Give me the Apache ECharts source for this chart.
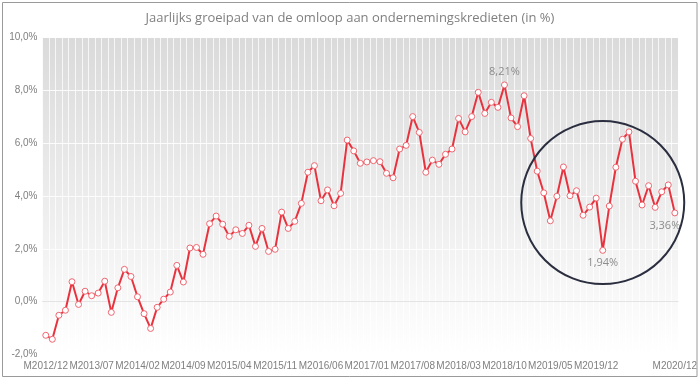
<!DOCTYPE html>
<html>
<head>
<meta charset="utf-8">
<script src="https://cdn.jsdelivr.net/npm/echarts@6/dist/echarts.min.js"></script>
<style>html,body{margin:0;padding:0;background:#fff;}#c{width:700px;height:381px;}</style>
</head>
<body>
<div id="c"></div>
<script>
const titleText = 'Jaarlijks groeipad van de omloop aan ondernemingskredieten (in %)';
const categories = [
 'M2012/12','M2013/01','M2013/02','M2013/03','M2013/04','M2013/05','M2013/06','M2013/07','M2013/08','M2013/09','M2013/10','M2013/11','M2013/12',
 'M2014/01','M2014/02','M2014/03','M2014/04','M2014/05','M2014/06','M2014/07','M2014/08','M2014/09','M2014/10','M2014/11','M2014/12',
 'M2015/01','M2015/02','M2015/03','M2015/04','M2015/05','M2015/06','M2015/07','M2015/08','M2015/09','M2015/10','M2015/11','M2015/12',
 'M2016/01','M2016/02','M2016/03','M2016/04','M2016/05','M2016/06','M2016/07','M2016/08','M2016/09','M2016/10','M2016/11','M2016/12',
 'M2017/01','M2017/02','M2017/03','M2017/04','M2017/05','M2017/06','M2017/07','M2017/08','M2017/09','M2017/10','M2017/11','M2017/12',
 'M2018/01','M2018/02','M2018/03','M2018/04','M2018/05','M2018/06','M2018/07','M2018/08','M2018/09','M2018/10','M2018/11','M2018/12',
 'M2019/01','M2019/02','M2019/03','M2019/04','M2019/05','M2019/06','M2019/07','M2019/08','M2019/09','M2019/10','M2019/11','M2019/12',
 'M2020/01','M2020/02','M2020/03','M2020/04','M2020/05','M2020/06','M2020/07','M2020/08','M2020/09','M2020/10','M2020/11','M2020/12'
];
const growth = [
 -1.28,-1.43,-0.52,-0.33,0.75,-0.11,0.39,0.22,0.32,0.77,-0.41,0.52,1.22,
 0.95,0.18,-0.46,-1.02,-0.22,0.09,0.36,1.37,0.74,2.03,2.05,1.79,
 2.95,3.24,2.93,2.47,2.72,2.58,2.89,2.09,2.77,1.90,1.98,3.39,
 2.77,3.04,3.72,4.90,5.15,3.82,4.23,3.63,4.10,6.12,5.71,5.24,
 5.29,5.34,5.30,4.86,4.69,5.78,5.92,7.01,6.41,4.90,5.36,5.20,
 5.58,5.78,6.94,6.43,7.01,7.93,7.13,7.55,7.36,8.21,6.96,6.63,
 7.80,6.18,4.94,4.12,3.06,3.99,5.10,4.01,4.20,3.27,3.58,3.92,
 1.94,3.62,5.09,6.15,6.43,4.56,3.66,4.39,3.57,4.16,4.42,3.36
];
const labelledPoints = [
 {index: 70, text: '8,21%', pos: 'top', offset: [0, 0]},
 {index: 85, text: '1,94%', pos: 'bottom', offset: [0, 0]},
 {index: 96, text: '3,36%', pos: 'bottom', offset: [-10, 0]}
];
const yTicks = {min: -2, max: 10, interval: 2};
const circleAnchor = {index: 85, value: 3.75};

const axisFont = 'Liberation Sans';
const fmtPct = v => v.toFixed(1).replace('.', ',') + '%';
const seriesData = growth.map((v, i) => {
  const lp = labelledPoints.find(p => p.index === i);
  if (!lp) return v;
  return {value: v, label: {show: true, position: lp.pos, offset: lp.offset, formatter: lp.text,
    color: '#8c8c8c', fontSize: 11, fontFamily: 'Open Sans', distance: 4}};
});

const chart = echarts.init(document.getElementById('c'), null, {renderer: 'canvas'});
chart.setOption({
  animation: false,
  backgroundColor: '#ffffff',
  title: {
    text: titleText, left: 'center', top: 7,
    textStyle: {color: '#808080', fontSize: 13, fontWeight: 'normal', fontFamily: 'Open Sans'}
  },
  grid: {
    left: 42.5, right: 9, top: 37.7, bottom: 26.7, show: true, borderWidth: 0,
    backgroundColor: new echarts.graphic.LinearGradient(0, 0, 0, 1, [
      {offset: 0, color: '#dadada'},
      {offset: 0.5, color: '#ececec'},
      {offset: 1, color: '#ffffff'}
    ])
  },
  xAxis: {
    type: 'category', data: categories, boundaryGap: true,
    axisLine: {show: true, lineStyle: {color: '#e4e4e4', width: 1}},
    axisTick: {show: false},
    splitLine: {show: true, interval: 0, lineStyle: {color: 'rgba(255,255,255,0.75)', width: 1}},
    axisLabel: {
      interval: idx => (idx % 7 === 0 && idx <= 84) || idx === categories.length - 1,
      showMinLabel: true, showMaxLabel: true,
      color: '#808080', fontSize: 10, fontFamily: axisFont, margin: 7, hideOverlap: false
    }
  },
  yAxis: {
    type: 'value', min: yTicks.min, max: yTicks.max, interval: yTicks.interval,
    axisLine: {show: false}, axisTick: {show: false},
    splitLine: {show: true, lineStyle: {color: 'rgba(255,255,255,0.85)', width: 1}},
    axisLabel: {formatter: fmtPct, color: '#808080', fontSize: 10, fontFamily: axisFont, margin: 5}
  },
  series: [{
    type: 'line', data: seriesData,
    lineStyle: {color: '#e8333f', width: 2},
    itemStyle: {color: '#ffffff', borderColor: '#ef6670', borderWidth: 1},
    symbol: 'circle', symbolSize: 6, showAllSymbol: true,
    z: 3
  }]
});

const c = chart.convertToPixel({xAxisIndex: 0, yAxisIndex: 0}, [circleAnchor.index, circleAnchor.value]);
chart.setOption({
  graphic: [
    {type: 'rect', shape: {x: 2.5, y: 2.5, width: 694.5, height: 374}, style: {fill: null, stroke: '#9a9a9a', lineWidth: 1}, z: 10, silent: true},
    {type: 'circle', shape: {cx: c[0], cy: c[1], r: 81.5}, style: {fill: null, stroke: '#2a2e3f', lineWidth: 2}, z: 10, silent: true}
  ]
});
</script>
</body>
</html>
